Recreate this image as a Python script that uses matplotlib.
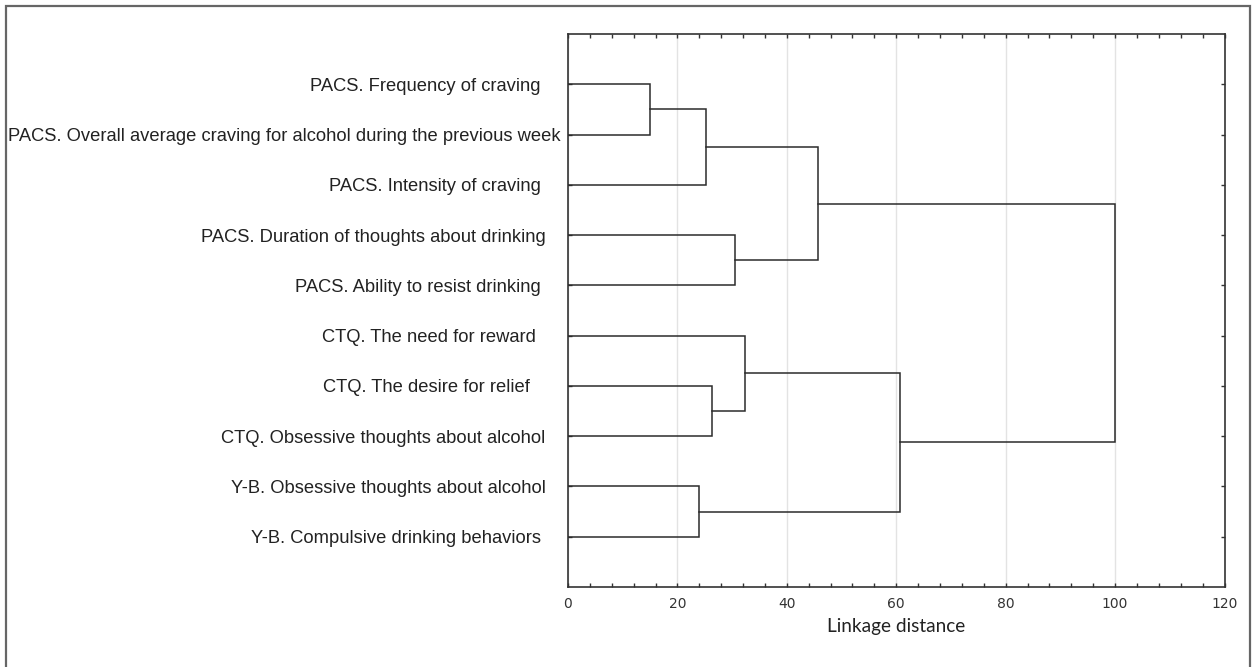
import matplotlib.pyplot as plt
from matplotlib.patches import Rectangle


# Leaf labels, top to bottom (trailing spaces as in the source figure)
labels = [
    "PACS. Frequency of craving    ",
    "PACS. Overall average craving for alcohol during the previous week",
    "PACS. Intensity of craving    ",
    "PACS. Duration of thoughts about drinking   ",
    "PACS. Ability to resist drinking    ",
    "CTQ. The need for reward     ",
    "CTQ. The desire for relief      ",
    "CTQ. Obsessive thoughts about alcohol   ",
    "Y-B. Obsessive thoughts about alcohol   ",
    "Y-B. Compulsive drinking behaviors    ",
]

# Linkage: cluster ids 0..9 are leaves, new clusters get 10, 11, ...
merge_a = [0, 10, 3, 11, 6, 5, 8, 15, 13]
merge_b = [1, 2, 4, 12, 7, 14, 9, 16, 17]
merge_height = [15.0, 25.3, 30.6, 45.7, 26.3, 32.4, 24.0, 60.6, 100.0]

x_ticks = [0, 20, 40, 60, 80, 100, 120]


fig = plt.figure(figsize=(12.58, 6.67), dpi=100)

ax = fig.add_axes([568 / 1258, 1 - 587 / 667, 656.5 / 1258, 553 / 667])

line_color = "#2b2b2b"

# leaf positions and heights
pos = {i: i + 1 for i in range(len(labels))}
hgt = {i: 0.0 for i in range(len(labels))}

for k in range(len(merge_a)):
    a = merge_a[k]
    b = merge_b[k]
    h = merge_height[k]
    ax.plot(
        [hgt[a], h, h, hgt[b]],
        [pos[a], pos[a], pos[b], pos[b]],
        color=line_color,
        linewidth=1.1,
        solid_joinstyle="miter",
        zorder=3,
    )
    new_id = len(labels) + k
    pos[new_id] = (pos[a] + pos[b]) / 2
    hgt[new_id] = h

ax.set_xlim(0, 120)
ax.set_ylim(11, 0)

ax.set_xticks(x_ticks)
ax.set_xticks(range(0, 121, 4), minor=True)
ax.set_yticks(range(1, len(labels) + 1))
ax.set_yticklabels(labels, fontfamily="Liberation Sans", fontsize=13.2, color="#222222")

ax.tick_params(axis="x", which="both", direction="in", top=True, length=3,
               width=1, color="#333333", labelsize=10, labelcolor="#333333", pad=7)
ax.tick_params(axis="y", which="both", direction="in", right=True, length=3,
               width=1, color="#333333", pad=5)

ax.grid(axis="x", color="#e3e3e3", linewidth=1, zorder=0)
ax.set_axisbelow(True)

for s in ax.spines.values():
    s.set_color("#333333")
    s.set_linewidth(1.2)

ax.set_xlabel("Linkage distance", fontfamily="Lato", fontsize=13.7,
              color="#222222", labelpad=5)

# outer frame of the figure
fig.patches.append(Rectangle(
    (6 / 1258, -0.02), 1244 / 1258, 1 - 6 / 667 + 0.02,
    transform=fig.transFigure, fill=False,
    edgecolor="#666666", linewidth=1.6, clip_on=False,
))

fig.savefig("out.png", dpi=100, facecolor="white")
